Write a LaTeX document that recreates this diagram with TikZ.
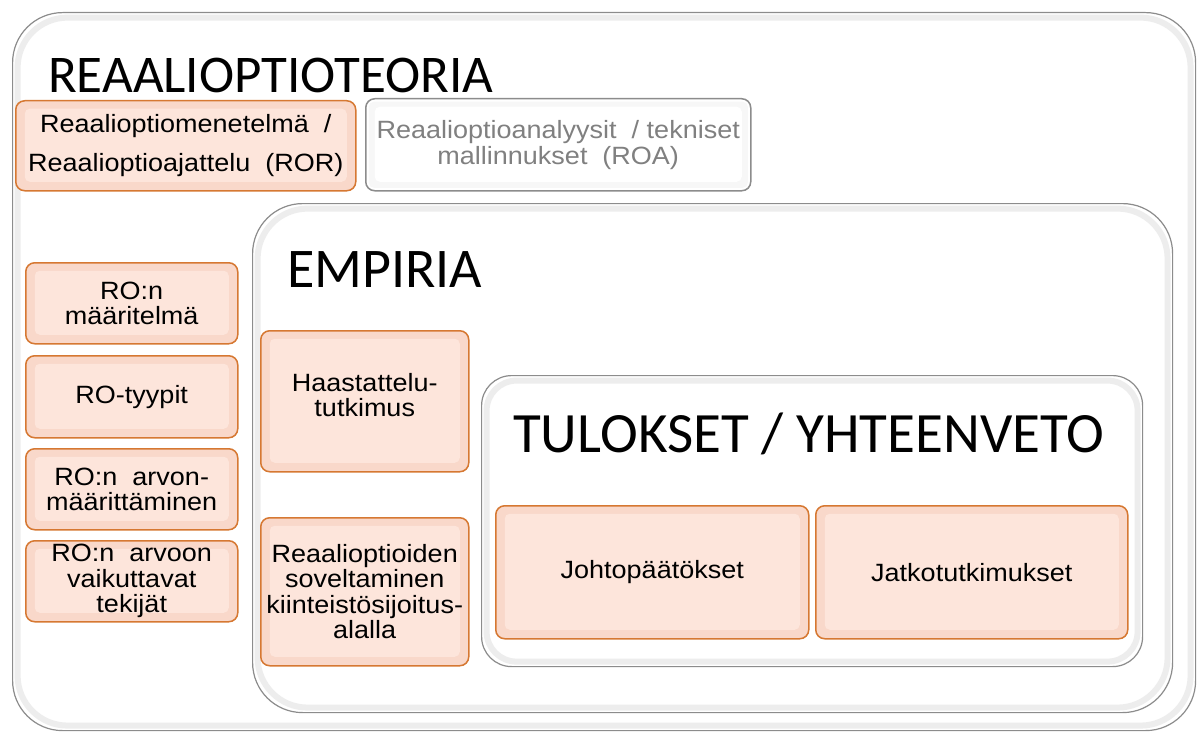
\documentclass[tikz,border=0pt]{standalone}
\usepackage{fontspec}
\setmainfont{Liberation Sans}
\newfontfamily\boxfnt{Liberation Sans}[FakeStretch=1.08]
\newfontfamily\titlefnt{Carlito}
\definecolor{peach}{RGB}{249,216,202}
\definecolor{peachlight}{RGB}{253,229,219}
\definecolor{oborder}{RGB}{214,120,50}
\definecolor{gborder}{RGB}{140,140,140}
\definecolor{gtext}{RGB}{128,128,128}
\tikzset{
  container/.style={draw=gborder, line width=1.2pt, rounded corners=#1, fill=white, anchor=north west, inner sep=0pt,
    path picture={\draw[black!7, line width=6pt, rounded corners=#1]
      ([shift={(5pt,-5pt)}]path picture bounding box.north west) rectangle
      ([shift={(-5pt,5pt)}]path picture bounding box.south east);}},
  obox/.style={draw=oborder, line width=1.5pt, rounded corners=9pt, fill=peach, anchor=north west, inner sep=2pt,
    align=center, font=\boxfnt\fontsize{25}{25.5}\selectfont,
    path picture={\fill[peachlight, rounded corners=5pt]
      ([shift={(9pt,-8pt)}]path picture bounding box.north west) rectangle
      ([shift={(-9pt,9pt)}]path picture bounding box.south east);}},
  gbox/.style={draw=gborder, line width=1.5pt, rounded corners=9pt, fill=white, anchor=north west, inner sep=2pt,
    align=center, text=gtext, font=\boxfnt\fontsize{25}{26}\selectfont,
    path picture={\fill[black!3, rounded corners=5pt]
      ([shift={(3pt,-3pt)}]path picture bounding box.north west) rectangle
      ([shift={(-3pt,3pt)}]path picture bounding box.south east);
      \fill[white, rounded corners=5pt]
      ([shift={(9pt,-8pt)}]path picture bounding box.north west) rectangle
      ([shift={(-9pt,9pt)}]path picture bounding box.south east);}},
  ttl/.style={anchor=base west, inner sep=0pt, font=\titlefnt\fontsize{#1}{60}\selectfont},
}
\begin{document}
\begin{tikzpicture}[x=1pt,y=-1pt]
\useasboundingbox (0,0) rectangle (1197,733);
% outer container
\node[container=50pt, minimum width=1183pt, minimum height=718pt] (outer) at (12,12) {};
\node[ttl=53] (t1) at (48,93) {REAALIOPTIOTEORIA};
\node[obox, minimum width=340pt, minimum height=90pt] (ror) at (15,100)
  {Reaalioptiomenetelmä \ /\\[14pt]Reaalioptioajattelu \ (ROR)};
\node[gbox, minimum width=385pt, minimum height=92pt] (roa) at (365,98)
  {Reaalioptioanalyysit \ / tekniset\\mallinnukset \ (ROA)};
% left column
\node[obox, minimum width=212pt, minimum height=81pt] (def) at (25,262) {RO:n\\määritelmä};
\node[obox, minimum width=212pt, minimum height=82pt] (typ) at (25,355) {RO-tyypit};
\node[obox, minimum width=212pt, minimum height=81pt] (val) at (25,448) {RO:n \ arvon-\\määrittäminen};
\node[obox, minimum width=212pt, minimum height=81pt] (fac) at (25,540) {RO:n \ arvoon\\vaikuttavat\\tekijät};
% empiria
\node[container=50pt, minimum width=920pt, minimum height=509pt] (emp) at (252,203) {};
\node[ttl=56] (t2) at (287,287) {EMPIRIA};
\node[obox, minimum width=208pt, minimum height=141pt] (haas) at (260,330) {Haastattelu-\\tutkimus\\[-13pt]};
\node[obox, minimum width=208pt, minimum height=148pt] (sov) at (260,517)
  {Reaalioptioiden\\soveltaminen\\kiinteistösijoitus-\\alalla};
% tulokset
\node[container=30pt, minimum width=661pt, minimum height=291pt] (tul) at (481,375) {};
\node[ttl=57] (t3) at (513,452) {TULOKSET / YHTEENVETO};
\node[obox, minimum width=313pt, minimum height=133pt] (joh) at (495,505) {Johtopäätökset};
\node[obox, minimum width=312pt, minimum height=133pt] (jat) at (815,505) {Jatkotutkimukset};
\end{tikzpicture}
\end{document}
